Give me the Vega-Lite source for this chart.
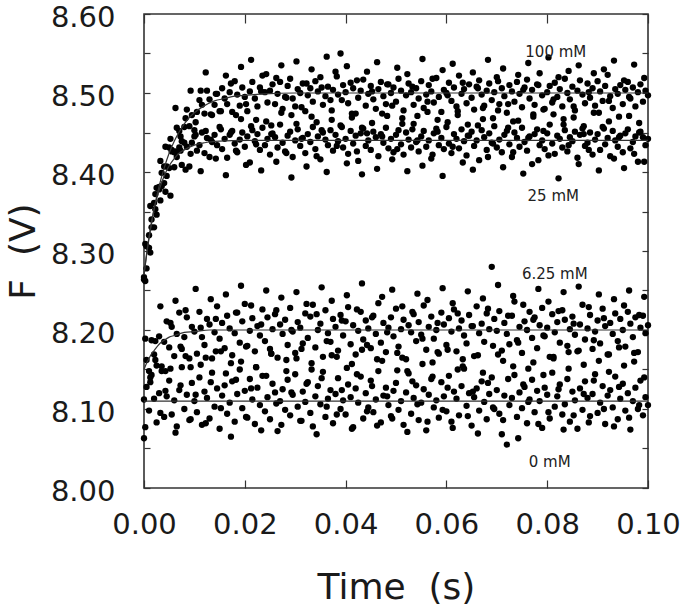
{
"$schema":"https://vega.github.io/schema/vega-lite/v6.json",
"width":504,"height":474,
"autosize":{"type":"none"},
"padding":{"left":144,"top":14,"right":37,"bottom":122},
"config":{"view":{"stroke":"#333333","strokeWidth":1.6},"font":"DejaVu Sans"},
"datasets":{
"pts":[
{"t":0,"F":8.267},{"t":0.0005,"F":8.278},{"t":0.001,"F":8.320},{"t":0.0015,"F":8.330},{"t":0.002,"F":8.330},{"t":0.0025,"F":8.380},{"t":0.003,"F":8.381},{"t":0.0035,"F":8.382},{"t":0.004,"F":8.407},{"t":0.0045,"F":8.395},
{"t":0.005,"F":8.431},{"t":0.0055,"F":8.426},{"t":0.006,"F":8.425},{"t":0.0065,"F":8.456},{"t":0.007,"F":8.452},{"t":0.0075,"F":8.439},{"t":0.008,"F":8.457},{"t":0.0085,"F":8.479},{"t":0.009,"F":8.458},{"t":0.0095,"F":8.472},
{"t":0.01,"F":8.453},{"t":0.0105,"F":8.476},{"t":0.011,"F":8.491},{"t":0.0115,"F":8.485},{"t":0.012,"F":8.474},{"t":0.0125,"F":8.503},{"t":0.013,"F":8.492},{"t":0.0135,"F":8.472},{"t":0.014,"F":8.485},{"t":0.0145,"F":8.499},
{"t":0.015,"F":8.477},{"t":0.0155,"F":8.506},{"t":0.016,"F":8.493},{"t":0.0165,"F":8.486},{"t":0.017,"F":8.501},{"t":0.0175,"F":8.476},{"t":0.018,"F":8.515},{"t":0.0185,"F":8.498},{"t":0.019,"F":8.484},{"t":0.0195,"F":8.507},
{"t":0.02,"F":8.495},{"t":0.0205,"F":8.477},{"t":0.021,"F":8.502},{"t":0.0215,"F":8.514},{"t":0.022,"F":8.493},{"t":0.0225,"F":8.483},{"t":0.023,"F":8.507},{"t":0.0235,"F":8.522},{"t":0.024,"F":8.501},{"t":0.0245,"F":8.488},
{"t":0.025,"F":8.503},{"t":0.0255,"F":8.511},{"t":0.026,"F":8.486},{"t":0.0265,"F":8.499},{"t":0.027,"F":8.514},{"t":0.0275,"F":8.480},{"t":0.028,"F":8.495},{"t":0.0285,"F":8.509},{"t":0.029,"F":8.518},{"t":0.0295,"F":8.493},
{"t":0.03,"F":8.483},{"t":0.0305,"F":8.505},{"t":0.031,"F":8.500},{"t":0.0315,"F":8.512},{"t":0.032,"F":8.477},{"t":0.0325,"F":8.497},{"t":0.033,"F":8.506},{"t":0.0335,"F":8.489},{"t":0.034,"F":8.515},{"t":0.0345,"F":8.502},
{"t":0.035,"F":8.520},{"t":0.0355,"F":8.485},{"t":0.036,"F":8.496},{"t":0.0365,"F":8.508},{"t":0.037,"F":8.491},{"t":0.0375,"F":8.504},{"t":0.038,"F":8.527},{"t":0.0385,"F":8.498},{"t":0.039,"F":8.550},{"t":0.0395,"F":8.510},
{"t":0.04,"F":8.501},{"t":0.0405,"F":8.487},{"t":0.041,"F":8.513},{"t":0.0415,"F":8.506},{"t":0.042,"F":8.474},{"t":0.0425,"F":8.494},{"t":0.043,"F":8.503},{"t":0.0435,"F":8.517},{"t":0.044,"F":8.484},{"t":0.0445,"F":8.499},
{"t":0.045,"F":8.509},{"t":0.0455,"F":8.492},{"t":0.046,"F":8.480},{"t":0.0465,"F":8.505},{"t":0.047,"F":8.514},{"t":0.0475,"F":8.496},{"t":0.048,"F":8.486},{"t":0.0485,"F":8.511},{"t":0.049,"F":8.500},{"t":0.0495,"F":8.507},
{"t":0.05,"F":8.489},{"t":0.0505,"F":8.518},{"t":0.051,"F":8.503},{"t":0.0515,"F":8.478},{"t":0.052,"F":8.497},{"t":0.0525,"F":8.512},{"t":0.053,"F":8.501},{"t":0.0535,"F":8.485},{"t":0.054,"F":8.506},{"t":0.0545,"F":8.493},
{"t":0.055,"F":8.515},{"t":0.0555,"F":8.481},{"t":0.056,"F":8.498},{"t":0.0565,"F":8.510},{"t":0.057,"F":8.502},{"t":0.0575,"F":8.488},{"t":0.058,"F":8.519},{"t":0.0585,"F":8.495},{"t":0.059,"F":8.476},{"t":0.0595,"F":8.504},
{"t":0.06,"F":8.500},{"t":0.0605,"F":8.513},{"t":0.061,"F":8.490},{"t":0.0615,"F":8.507},{"t":0.062,"F":8.483},{"t":0.0625,"F":8.522},{"t":0.063,"F":8.499},{"t":0.0635,"F":8.505},{"t":0.064,"F":8.487},{"t":0.0645,"F":8.511},
{"t":0.065,"F":8.494},{"t":0.0655,"F":8.479},{"t":0.066,"F":8.508},{"t":0.0665,"F":8.516},{"t":0.067,"F":8.498},{"t":0.0675,"F":8.484},{"t":0.068,"F":8.503},{"t":0.0685,"F":8.512},{"t":0.069,"F":8.491},{"t":0.0695,"F":8.501},
{"t":0.07,"F":8.520},{"t":0.0705,"F":8.486},{"t":0.071,"F":8.506},{"t":0.0715,"F":8.496},{"t":0.072,"F":8.475},{"t":0.0725,"F":8.510},{"t":0.073,"F":8.502},{"t":0.0735,"F":8.489},{"t":0.074,"F":8.514},{"t":0.0745,"F":8.499},
{"t":0.075,"F":8.482},{"t":0.0755,"F":8.507},{"t":0.076,"F":8.517},{"t":0.0765,"F":8.493},{"t":0.077,"F":8.504},{"t":0.0775,"F":8.485},{"t":0.078,"F":8.511},{"t":0.0785,"F":8.525},{"t":0.079,"F":8.497},{"t":0.0795,"F":8.480},
{"t":0.08,"F":8.501},{"t":0.0805,"F":8.509},{"t":0.081,"F":8.488},{"t":0.0815,"F":8.513},{"t":0.082,"F":8.495},{"t":0.0825,"F":8.505},{"t":0.083,"F":8.483},{"t":0.0835,"F":8.518},{"t":0.084,"F":8.500},{"t":0.0845,"F":8.492},
{"t":0.085,"F":8.508},{"t":0.0855,"F":8.478},{"t":0.086,"F":8.503},{"t":0.0865,"F":8.516},{"t":0.087,"F":8.498},{"t":0.0875,"F":8.487},{"t":0.088,"F":8.512},{"t":0.0885,"F":8.494},{"t":0.089,"F":8.506},{"t":0.0895,"F":8.484},
{"t":0.09,"F":8.515},{"t":0.0905,"F":8.502},{"t":0.091,"F":8.490},{"t":0.0915,"F":8.509},{"t":0.092,"F":8.523},{"t":0.0925,"F":8.496},{"t":0.093,"F":8.481},{"t":0.0935,"F":8.505},{"t":0.094,"F":8.499},{"t":0.0945,"F":8.510},
{"t":0.095,"F":8.486},{"t":0.0955,"F":8.504},{"t":0.096,"F":8.514},{"t":0.0965,"F":8.493},{"t":0.097,"F":8.507},{"t":0.0975,"F":8.483},{"t":0.098,"F":8.501},{"t":0.0985,"F":8.511},{"t":0.099,"F":8.489},{"t":0.0995,"F":8.503},{"t":0.1,"F":8.497},

{"t":0.00025,"F":8.262},{"t":0.00125,"F":8.357},{"t":0.00225,"F":8.353},{"t":0.00325,"F":8.414},{"t":0.00425,"F":8.375},{"t":0.00525,"F":8.442},{"t":0.00625,"F":8.481},{"t":0.00725,"F":8.427},{"t":0.00825,"F":8.468},{"t":0.00925,"F":8.503},
{"t":0.01025,"F":8.447},{"t":0.01125,"F":8.503},{"t":0.01225,"F":8.526},{"t":0.01325,"F":8.473},{"t":0.01425,"F":8.499},{"t":0.01525,"F":8.454},{"t":0.01625,"F":8.522},{"t":0.01725,"F":8.512},{"t":0.01825,"F":8.472},{"t":0.01925,"F":8.533},
{"t":0.02025,"F":8.486},{"t":0.02125,"F":8.542},{"t":0.02225,"F":8.466},{"t":0.02325,"F":8.502},{"t":0.02425,"F":8.524},{"t":0.02525,"F":8.459},{"t":0.02625,"F":8.519},{"t":0.02725,"F":8.535},{"t":0.02825,"F":8.494},{"t":0.02925,"F":8.472},
{"t":0.03025,"F":8.540},{"t":0.03125,"F":8.482},{"t":0.03225,"F":8.512},{"t":0.03325,"F":8.530},{"t":0.03425,"F":8.463},{"t":0.03525,"F":8.507},{"t":0.03625,"F":8.546},{"t":0.03725,"F":8.478},{"t":0.03825,"F":8.521},{"t":0.03925,"F":8.491},
{"t":0.04025,"F":8.534},{"t":0.04125,"F":8.469},{"t":0.04225,"F":8.516},{"t":0.04325,"F":8.456},{"t":0.04425,"F":8.527},{"t":0.04525,"F":8.502},{"t":0.04625,"F":8.539},{"t":0.04725,"F":8.474},{"t":0.04825,"F":8.511},{"t":0.04925,"F":8.484},
{"t":0.05025,"F":8.532},{"t":0.05125,"F":8.461},{"t":0.05225,"F":8.524},{"t":0.05325,"F":8.508},{"t":0.05425,"F":8.471},{"t":0.05525,"F":8.543},{"t":0.05625,"F":8.489},{"t":0.05725,"F":8.518},{"t":0.05825,"F":8.466},{"t":0.05925,"F":8.529},
{"t":0.06025,"F":8.497},{"t":0.06125,"F":8.537},{"t":0.06225,"F":8.477},{"t":0.06325,"F":8.513},{"t":0.06425,"F":8.460},{"t":0.06525,"F":8.526},{"t":0.06625,"F":8.506},{"t":0.06725,"F":8.481},{"t":0.06825,"F":8.542},{"t":0.06925,"F":8.468},
{"t":0.07025,"F":8.515},{"t":0.07125,"F":8.531},{"t":0.07225,"F":8.486},{"t":0.07325,"F":8.464},{"t":0.07425,"F":8.523},{"t":0.07525,"F":8.504},{"t":0.07625,"F":8.538},{"t":0.07725,"F":8.473},{"t":0.07825,"F":8.510},{"t":0.07925,"F":8.479},
{"t":0.08025,"F":8.545},{"t":0.08125,"F":8.492},{"t":0.08225,"F":8.520},{"t":0.08325,"F":8.467},{"t":0.08425,"F":8.528},{"t":0.08525,"F":8.483},{"t":0.08625,"F":8.535},{"t":0.08725,"F":8.458},{"t":0.08825,"F":8.501},{"t":0.08925,"F":8.525},
{"t":0.09025,"F":8.475},{"t":0.09125,"F":8.530},{"t":0.09225,"F":8.490},{"t":0.09325,"F":8.541},{"t":0.09425,"F":8.470},{"t":0.09525,"F":8.516},{"t":0.09625,"F":8.495},{"t":0.09725,"F":8.536},{"t":0.09825,"F":8.462},{"t":0.09925,"F":8.519},

{"t":0,"F":8.264},{"t":0.0005,"F":8.306},{"t":0.001,"F":8.304},{"t":0.0015,"F":8.340},{"t":0.002,"F":8.361},{"t":0.0025,"F":8.346},{"t":0.003,"F":8.378},{"t":0.0035,"F":8.399},{"t":0.004,"F":8.386},{"t":0.0045,"F":8.407},
{"t":0.005,"F":8.405},{"t":0.0055,"F":8.428},{"t":0.006,"F":8.406},{"t":0.0065,"F":8.419},{"t":0.007,"F":8.431},{"t":0.0075,"F":8.409},{"t":0.008,"F":8.437},{"t":0.0085,"F":8.432},{"t":0.009,"F":8.407},{"t":0.0095,"F":8.437},
{"t":0.01,"F":8.445},{"t":0.0105,"F":8.427},{"t":0.011,"F":8.434},{"t":0.0115,"F":8.450},{"t":0.012,"F":8.424},{"t":0.0125,"F":8.443},{"t":0.013,"F":8.419},{"t":0.0135,"F":8.438},{"t":0.014,"F":8.447},{"t":0.0145,"F":8.434},
{"t":0.015,"F":8.457},{"t":0.0155,"F":8.429},{"t":0.016,"F":8.442},{"t":0.0165,"F":8.418},{"t":0.017,"F":8.447},{"t":0.0175,"F":8.452},{"t":0.018,"F":8.436},{"t":0.0185,"F":8.425},{"t":0.019,"F":8.441},{"t":0.0195,"F":8.450},
{"t":0.02,"F":8.432},{"t":0.0205,"F":8.445},{"t":0.021,"F":8.412},{"t":0.0215,"F":8.453},{"t":0.022,"F":8.439},{"t":0.0225,"F":8.448},{"t":0.023,"F":8.428},{"t":0.0235,"F":8.456},{"t":0.024,"F":8.434},{"t":0.0245,"F":8.442},
{"t":0.025,"F":8.422},{"t":0.0255,"F":8.449},{"t":0.026,"F":8.444},{"t":0.0265,"F":8.431},{"t":0.027,"F":8.460},{"t":0.0275,"F":8.437},{"t":0.028,"F":8.426},{"t":0.0285,"F":8.446},{"t":0.029,"F":8.451},{"t":0.0295,"F":8.419},
{"t":0.03,"F":8.440},{"t":0.0305,"F":8.454},{"t":0.031,"F":8.433},{"t":0.0315,"F":8.443},{"t":0.032,"F":8.424},{"t":0.0325,"F":8.448},{"t":0.033,"F":8.438},{"t":0.0335,"F":8.457},{"t":0.034,"F":8.429},{"t":0.0345,"F":8.445},
{"t":0.035,"F":8.416},{"t":0.0355,"F":8.450},{"t":0.036,"F":8.441},{"t":0.0365,"F":8.434},{"t":0.037,"F":8.453},{"t":0.0375,"F":8.427},{"t":0.038,"F":8.447},{"t":0.0385,"F":8.439},{"t":0.039,"F":8.459},{"t":0.0395,"F":8.431},
{"t":0.04,"F":8.442},{"t":0.0405,"F":8.423},{"t":0.041,"F":8.452},{"t":0.0415,"F":8.436},{"t":0.042,"F":8.446},{"t":0.0425,"F":8.414},{"t":0.043,"F":8.449},{"t":0.0435,"F":8.455},{"t":0.044,"F":8.433},{"t":0.0445,"F":8.440},
{"t":0.045,"F":8.428},{"t":0.0455,"F":8.451},{"t":0.046,"F":8.444},{"t":0.0465,"F":8.420},{"t":0.047,"F":8.448},{"t":0.0475,"F":8.437},{"t":0.048,"F":8.456},{"t":0.0485,"F":8.430},{"t":0.049,"F":8.442},{"t":0.0495,"F":8.425},
{"t":0.05,"F":8.447},{"t":0.0505,"F":8.453},{"t":0.051,"F":8.435},{"t":0.0515,"F":8.422},{"t":0.052,"F":8.450},{"t":0.0525,"F":8.441},{"t":0.053,"F":8.431},{"t":0.0535,"F":8.461},{"t":0.054,"F":8.438},{"t":0.0545,"F":8.426},
{"t":0.055,"F":8.445},{"t":0.0555,"F":8.452},{"t":0.056,"F":8.432},{"t":0.0565,"F":8.440},{"t":0.057,"F":8.417},{"t":0.0575,"F":8.449},{"t":0.058,"F":8.455},{"t":0.0585,"F":8.434},{"t":0.059,"F":8.443},{"t":0.0595,"F":8.429},
{"t":0.06,"F":8.457},{"t":0.0605,"F":8.436},{"t":0.061,"F":8.424},{"t":0.0615,"F":8.448},{"t":0.062,"F":8.442},{"t":0.0625,"F":8.430},{"t":0.063,"F":8.454},{"t":0.0635,"F":8.439},{"t":0.064,"F":8.421},{"t":0.0645,"F":8.446},
{"t":0.065,"F":8.451},{"t":0.0655,"F":8.433},{"t":0.066,"F":8.440},{"t":0.0665,"F":8.415},{"t":0.067,"F":8.453},{"t":0.0675,"F":8.444},{"t":0.068,"F":8.428},{"t":0.0685,"F":8.449},{"t":0.069,"F":8.437},{"t":0.0695,"F":8.458},
{"t":0.07,"F":8.431},{"t":0.0705,"F":8.441},{"t":0.071,"F":8.425},{"t":0.0715,"F":8.447},{"t":0.072,"F":8.452},{"t":0.0725,"F":8.435},{"t":0.073,"F":8.419},{"t":0.0735,"F":8.450},{"t":0.074,"F":8.443},{"t":0.0745,"F":8.432},
{"t":0.075,"F":8.456},{"t":0.0755,"F":8.438},{"t":0.076,"F":8.427},{"t":0.0765,"F":8.445},{"t":0.077,"F":8.410},{"t":0.0775,"F":8.448},{"t":0.078,"F":8.454},{"t":0.0785,"F":8.434},{"t":0.079,"F":8.440},{"t":0.0795,"F":8.429},
{"t":0.08,"F":8.449},{"t":0.0805,"F":8.460},{"t":0.081,"F":8.436},{"t":0.0815,"F":8.423},{"t":0.082,"F":8.446},{"t":0.0825,"F":8.442},{"t":0.083,"F":8.431},{"t":0.0835,"F":8.453},{"t":0.084,"F":8.426},{"t":0.0845,"F":8.444},
{"t":0.085,"F":8.439},{"t":0.0855,"F":8.451},{"t":0.086,"F":8.418},{"t":0.0865,"F":8.447},{"t":0.087,"F":8.455},{"t":0.0875,"F":8.433},{"t":0.088,"F":8.437},{"t":0.0885,"F":8.450},{"t":0.089,"F":8.422},{"t":0.0895,"F":8.441},
{"t":0.09,"F":8.448},{"t":0.0905,"F":8.428},{"t":0.091,"F":8.457},{"t":0.0915,"F":8.435},{"t":0.092,"F":8.443},{"t":0.0925,"F":8.420},{"t":0.093,"F":8.452},{"t":0.0935,"F":8.440},{"t":0.094,"F":8.432},{"t":0.0945,"F":8.446},
{"t":0.095,"F":8.425},{"t":0.0955,"F":8.449},{"t":0.096,"F":8.454},{"t":0.0965,"F":8.430},{"t":0.097,"F":8.438},{"t":0.0975,"F":8.445},{"t":0.098,"F":8.413},{"t":0.0985,"F":8.451},{"t":0.099,"F":8.444},{"t":0.0995,"F":8.434},{"t":0.1,"F":8.442},

{"t":0.00025,"F":8.309},{"t":0.00125,"F":8.298},{"t":0.00225,"F":8.372},{"t":0.00325,"F":8.364},{"t":0.00425,"F":8.432},{"t":0.00525,"F":8.370},{"t":0.00625,"F":8.426},{"t":0.00725,"F":8.445},{"t":0.00825,"F":8.403},{"t":0.00925,"F":8.423},
{"t":0.01025,"F":8.463},{"t":0.01125,"F":8.401},{"t":0.01225,"F":8.452},{"t":0.01325,"F":8.441},{"t":0.01425,"F":8.417},{"t":0.01525,"F":8.477},{"t":0.01625,"F":8.396},{"t":0.01725,"F":8.450},{"t":0.01825,"F":8.427},{"t":0.01925,"F":8.467},
{"t":0.02025,"F":8.409},{"t":0.02125,"F":8.458},{"t":0.02225,"F":8.435},{"t":0.02325,"F":8.402},{"t":0.02425,"F":8.464},{"t":0.02525,"F":8.448},{"t":0.02625,"F":8.413},{"t":0.02725,"F":8.475},{"t":0.02825,"F":8.424},{"t":0.02925,"F":8.393},
{"t":0.03025,"F":8.461},{"t":0.03125,"F":8.442},{"t":0.03225,"F":8.407},{"t":0.03325,"F":8.470},{"t":0.03425,"F":8.420},{"t":0.03525,"F":8.453},{"t":0.03625,"F":8.400},{"t":0.03725,"F":8.466},{"t":0.03825,"F":8.433},{"t":0.03925,"F":8.457},
{"t":0.04025,"F":8.411},{"t":0.04125,"F":8.474},{"t":0.04225,"F":8.426},{"t":0.04325,"F":8.397},{"t":0.04425,"F":8.449},{"t":0.04525,"F":8.462},{"t":0.04625,"F":8.404},{"t":0.04725,"F":8.445},{"t":0.04825,"F":8.471},{"t":0.04925,"F":8.416},
{"t":0.05025,"F":8.429},{"t":0.05125,"F":8.468},{"t":0.05225,"F":8.401},{"t":0.05325,"F":8.454},{"t":0.05425,"F":8.440},{"t":0.05525,"F":8.408},{"t":0.05625,"F":8.476},{"t":0.05725,"F":8.422},{"t":0.05825,"F":8.451},{"t":0.05925,"F":8.395},
{"t":0.06025,"F":8.463},{"t":0.06125,"F":8.432},{"t":0.06225,"F":8.472},{"t":0.06325,"F":8.412},{"t":0.06425,"F":8.446},{"t":0.06525,"F":8.403},{"t":0.06625,"F":8.459},{"t":0.06725,"F":8.467},{"t":0.06825,"F":8.419},{"t":0.06925,"F":8.436},
{"t":0.07025,"F":8.478},{"t":0.07125,"F":8.406},{"t":0.07225,"F":8.456},{"t":0.07325,"F":8.425},{"t":0.07425,"F":8.465},{"t":0.07525,"F":8.398},{"t":0.07625,"F":8.443},{"t":0.07725,"F":8.470},{"t":0.07825,"F":8.415},{"t":0.07925,"F":8.452},
{"t":0.08025,"F":8.421},{"t":0.08125,"F":8.473},{"t":0.08225,"F":8.392},{"t":0.08325,"F":8.460},{"t":0.08425,"F":8.434},{"t":0.08525,"F":8.469},{"t":0.08625,"F":8.410},{"t":0.08725,"F":8.448},{"t":0.08825,"F":8.428},{"t":0.08925,"F":8.475},
{"t":0.09025,"F":8.402},{"t":0.09125,"F":8.455},{"t":0.09225,"F":8.464},{"t":0.09325,"F":8.417},{"t":0.09425,"F":8.444},{"t":0.09525,"F":8.405},{"t":0.09625,"F":8.471},{"t":0.09725,"F":8.423},{"t":0.09825,"F":8.450},{"t":0.09925,"F":8.413},

{"t":0,"F":8.112},{"t":0.0005,"F":8.162},{"t":0.001,"F":8.148},{"t":0.0015,"F":8.187},{"t":0.002,"F":8.169},{"t":0.0025,"F":8.155},{"t":0.003,"F":8.192},{"t":0.0035,"F":8.154},{"t":0.004,"F":8.185},{"t":0.0045,"F":8.211},
{"t":0.005,"F":8.178},{"t":0.0055,"F":8.204},{"t":0.006,"F":8.167},{"t":0.0065,"F":8.195},{"t":0.007,"F":8.222},{"t":0.0075,"F":8.176},{"t":0.008,"F":8.191},{"t":0.0085,"F":8.216},{"t":0.009,"F":8.164},{"t":0.0095,"F":8.204},
{"t":0.01,"F":8.198},{"t":0.0105,"F":8.170},{"t":0.011,"F":8.223},{"t":0.0115,"F":8.191},{"t":0.012,"F":8.181},{"t":0.0125,"F":8.214},{"t":0.013,"F":8.207},{"t":0.0135,"F":8.164},{"t":0.014,"F":8.197},{"t":0.0145,"F":8.230},
{"t":0.015,"F":8.189},{"t":0.0155,"F":8.209},{"t":0.016,"F":8.177},{"t":0.0165,"F":8.218},{"t":0.017,"F":8.202},{"t":0.0175,"F":8.168},{"t":0.018,"F":8.196},{"t":0.0185,"F":8.222},{"t":0.019,"F":8.184},{"t":0.0195,"F":8.211},
{"t":0.02,"F":8.233},{"t":0.0205,"F":8.180},{"t":0.021,"F":8.199},{"t":0.0215,"F":8.215},{"t":0.022,"F":8.173},{"t":0.0225,"F":8.205},{"t":0.023,"F":8.193},{"t":0.0235,"F":8.226},{"t":0.024,"F":8.186},{"t":0.0245,"F":8.216},
{"t":0.025,"F":8.176},{"t":0.0255,"F":8.201},{"t":0.026,"F":8.220},{"t":0.0265,"F":8.165},{"t":0.027,"F":8.207},{"t":0.0275,"F":8.195},{"t":0.028,"F":8.213},{"t":0.0285,"F":8.181},{"t":0.029,"F":8.228},{"t":0.0295,"F":8.198},
{"t":0.03,"F":8.171},{"t":0.0305,"F":8.210},{"t":0.031,"F":8.203},{"t":0.0315,"F":8.183},{"t":0.032,"F":8.221},{"t":0.0325,"F":8.190},{"t":0.033,"F":8.217},{"t":0.0335,"F":8.232},{"t":0.034,"F":8.178},{"t":0.0345,"F":8.200},
{"t":0.035,"F":8.208},{"t":0.0355,"F":8.166},{"t":0.036,"F":8.225},{"t":0.0365,"F":8.196},{"t":0.037,"F":8.185},{"t":0.0375,"F":8.214},{"t":0.038,"F":8.204},{"t":0.0385,"F":8.174},{"t":0.039,"F":8.219},{"t":0.0395,"F":8.193},
{"t":0.04,"F":8.211},{"t":0.0405,"F":8.229},{"t":0.041,"F":8.182},{"t":0.0415,"F":8.206},{"t":0.042,"F":8.169},{"t":0.0425,"F":8.199},{"t":0.043,"F":8.223},{"t":0.0435,"F":8.188},{"t":0.044,"F":8.212},{"t":0.0445,"F":8.202},
{"t":0.045,"F":8.177},{"t":0.0455,"F":8.218},{"t":0.046,"F":8.195},{"t":0.0465,"F":8.234},{"t":0.047,"F":8.184},{"t":0.0475,"F":8.209},{"t":0.048,"F":8.172},{"t":0.0485,"F":8.203},{"t":0.049,"F":8.216},{"t":0.0495,"F":8.192},
{"t":0.05,"F":8.227},{"t":0.0505,"F":8.179},{"t":0.051,"F":8.201},{"t":0.0515,"F":8.213},{"t":0.052,"F":8.163},{"t":0.0525,"F":8.206},{"t":0.053,"F":8.197},{"t":0.0535,"F":8.220},{"t":0.054,"F":8.186},{"t":0.0545,"F":8.210},
{"t":0.055,"F":8.194},{"t":0.0555,"F":8.231},{"t":0.056,"F":8.175},{"t":0.0565,"F":8.204},{"t":0.057,"F":8.217},{"t":0.0575,"F":8.189},{"t":0.058,"F":8.200},{"t":0.0585,"F":8.170},{"t":0.059,"F":8.222},{"t":0.0595,"F":8.207},
{"t":0.06,"F":8.181},{"t":0.0605,"F":8.215},{"t":0.061,"F":8.198},{"t":0.0615,"F":8.226},{"t":0.062,"F":8.173},{"t":0.0625,"F":8.202},{"t":0.063,"F":8.212},{"t":0.0635,"F":8.193},{"t":0.064,"F":8.183},{"t":0.0645,"F":8.219},
{"t":0.065,"F":8.205},{"t":0.0655,"F":8.167},{"t":0.066,"F":8.230},{"t":0.0665,"F":8.196},{"t":0.067,"F":8.208},{"t":0.0675,"F":8.185},{"t":0.068,"F":8.221},{"t":0.0685,"F":8.201},{"t":0.069,"F":8.280},{"t":0.0695,"F":8.214},
{"t":0.07,"F":8.199},{"t":0.0705,"F":8.224},{"t":0.071,"F":8.174},{"t":0.0715,"F":8.209},{"t":0.072,"F":8.195},{"t":0.0725,"F":8.182},{"t":0.073,"F":8.218},{"t":0.0735,"F":8.236},{"t":0.074,"F":8.187},{"t":0.0745,"F":8.204},
{"t":0.075,"F":8.171},{"t":0.0755,"F":8.211},{"t":0.076,"F":8.200},{"t":0.0765,"F":8.223},{"t":0.077,"F":8.190},{"t":0.0775,"F":8.216},{"t":0.078,"F":8.177},{"t":0.0785,"F":8.206},{"t":0.079,"F":8.228},{"t":0.0795,"F":8.192},
{"t":0.08,"F":8.203},{"t":0.0805,"F":8.166},{"t":0.081,"F":8.220},{"t":0.0815,"F":8.197},{"t":0.082,"F":8.210},{"t":0.0825,"F":8.184},{"t":0.083,"F":8.225},{"t":0.0835,"F":8.213},{"t":0.084,"F":8.180},{"t":0.0845,"F":8.201},
{"t":0.085,"F":8.217},{"t":0.0855,"F":8.194},{"t":0.086,"F":8.173},{"t":0.0865,"F":8.207},{"t":0.087,"F":8.232},{"t":0.0875,"F":8.188},{"t":0.088,"F":8.202},{"t":0.0885,"F":8.219},{"t":0.089,"F":8.176},{"t":0.0895,"F":8.198},
{"t":0.09,"F":8.212},{"t":0.0905,"F":8.183},{"t":0.091,"F":8.227},{"t":0.0915,"F":8.205},{"t":0.092,"F":8.169},{"t":0.0925,"F":8.209},{"t":0.093,"F":8.195},{"t":0.0935,"F":8.221},{"t":0.094,"F":8.186},{"t":0.0945,"F":8.214},
{"t":0.095,"F":8.200},{"t":0.0955,"F":8.179},{"t":0.096,"F":8.223},{"t":0.0965,"F":8.208},{"t":0.097,"F":8.191},{"t":0.0975,"F":8.216},{"t":0.098,"F":8.172},{"t":0.0985,"F":8.203},{"t":0.099,"F":8.218},{"t":0.0995,"F":8.196},{"t":0.1,"F":8.206},

{"t":0.00025,"F":8.189},{"t":0.00125,"F":8.134},{"t":0.00225,"F":8.186},{"t":0.00325,"F":8.230},{"t":0.00425,"F":8.148},{"t":0.00525,"F":8.209},{"t":0.00625,"F":8.237},{"t":0.00725,"F":8.179},{"t":0.00825,"F":8.225},{"t":0.00925,"F":8.153},
{"t":0.01025,"F":8.252},{"t":0.01125,"F":8.203},{"t":0.01225,"F":8.165},{"t":0.01325,"F":8.239},{"t":0.01425,"F":8.214},{"t":0.01525,"F":8.173},{"t":0.01625,"F":8.245},{"t":0.01725,"F":8.158},{"t":0.01825,"F":8.222},{"t":0.01925,"F":8.256},
{"t":0.02025,"F":8.179},{"t":0.02125,"F":8.231},{"t":0.02225,"F":8.153},{"t":0.02325,"F":8.207},{"t":0.02425,"F":8.250},{"t":0.02525,"F":8.170},{"t":0.02625,"F":8.225},{"t":0.02725,"F":8.241},{"t":0.02825,"F":8.162},{"t":0.02925,"F":8.200},
{"t":0.03025,"F":8.248},{"t":0.03125,"F":8.176},{"t":0.03225,"F":8.233},{"t":0.03325,"F":8.150},{"t":0.03425,"F":8.220},{"t":0.03525,"F":8.254},{"t":0.03625,"F":8.186},{"t":0.03725,"F":8.237},{"t":0.03825,"F":8.166},{"t":0.03925,"F":8.212},
{"t":0.04025,"F":8.244},{"t":0.04125,"F":8.157},{"t":0.04225,"F":8.226},{"t":0.04325,"F":8.259},{"t":0.04425,"F":8.181},{"t":0.04525,"F":8.216},{"t":0.04625,"F":8.163},{"t":0.04725,"F":8.242},{"t":0.04825,"F":8.197},{"t":0.04925,"F":8.251},
{"t":0.05025,"F":8.171},{"t":0.05125,"F":8.230},{"t":0.05225,"F":8.148},{"t":0.05325,"F":8.223},{"t":0.05425,"F":8.246},{"t":0.05525,"F":8.189},{"t":0.05625,"F":8.238},{"t":0.05725,"F":8.159},{"t":0.05825,"F":8.209},{"t":0.05925,"F":8.253},
{"t":0.06025,"F":8.175},{"t":0.06125,"F":8.234},{"t":0.06225,"F":8.221},{"t":0.06325,"F":8.154},{"t":0.06425,"F":8.249},{"t":0.06525,"F":8.205},{"t":0.06625,"F":8.168},{"t":0.06725,"F":8.240},{"t":0.06825,"F":8.227},{"t":0.06925,"F":8.180},
{"t":0.07025,"F":8.257},{"t":0.07125,"F":8.161},{"t":0.07225,"F":8.218},{"t":0.07325,"F":8.243},{"t":0.07425,"F":8.184},{"t":0.07525,"F":8.232},{"t":0.07625,"F":8.151},{"t":0.07725,"F":8.213},{"t":0.07825,"F":8.252},{"t":0.07925,"F":8.193},
{"t":0.08025,"F":8.236},{"t":0.08125,"F":8.164},{"t":0.08225,"F":8.224},{"t":0.08325,"F":8.248},{"t":0.08425,"F":8.172},{"t":0.08525,"F":8.208},{"t":0.08625,"F":8.255},{"t":0.08725,"F":8.156},{"t":0.08825,"F":8.229},{"t":0.08925,"F":8.187},
{"t":0.09025,"F":8.245},{"t":0.09125,"F":8.215},{"t":0.09225,"F":8.169},{"t":0.09325,"F":8.239},{"t":0.09425,"F":8.178},{"t":0.09525,"F":8.231},{"t":0.09625,"F":8.250},{"t":0.09725,"F":8.160},{"t":0.09825,"F":8.219},{"t":0.09925,"F":8.242},

{"t":0,"F":8.063},{"t":0.0005,"F":8.128},{"t":0.001,"F":8.098},{"t":0.0015,"F":8.143},{"t":0.002,"F":8.113},{"t":0.0025,"F":8.083},{"t":0.003,"F":8.120},{"t":0.0035,"F":8.148},{"t":0.004,"F":8.090},{"t":0.0045,"F":8.116},
{"t":0.005,"F":8.136},{"t":0.0055,"F":8.093},{"t":0.006,"F":8.111},{"t":0.0065,"F":8.078},{"t":0.007,"F":8.124},{"t":0.0075,"F":8.153},{"t":0.008,"F":8.100},{"t":0.0085,"F":8.118},{"t":0.009,"F":8.086},{"t":0.0095,"F":8.133},
{"t":0.01,"F":8.110},{"t":0.0105,"F":8.096},{"t":0.011,"F":8.140},{"t":0.0115,"F":8.080},{"t":0.012,"F":8.122},{"t":0.0125,"F":8.114},{"t":0.013,"F":8.088},{"t":0.0135,"F":8.146},{"t":0.014,"F":8.103},{"t":0.0145,"F":8.126},
{"t":0.015,"F":8.075},{"t":0.0155,"F":8.117},{"t":0.016,"F":8.130},{"t":0.0165,"F":8.094},{"t":0.017,"F":8.108},{"t":0.0175,"F":8.135},{"t":0.018,"F":8.084},{"t":0.0185,"F":8.119},{"t":0.019,"F":8.150},{"t":0.0195,"F":8.101},
{"t":0.02,"F":8.123},{"t":0.0205,"F":8.089},{"t":0.021,"F":8.138},{"t":0.0215,"F":8.112},{"t":0.022,"F":8.081},{"t":0.0225,"F":8.127},{"t":0.023,"F":8.105},{"t":0.0235,"F":8.142},{"t":0.024,"F":8.097},{"t":0.0245,"F":8.115},
{"t":0.025,"F":8.087},{"t":0.0255,"F":8.132},{"t":0.026,"F":8.121},{"t":0.0265,"F":8.072},{"t":0.027,"F":8.110},{"t":0.0275,"F":8.125},{"t":0.028,"F":8.099},{"t":0.0285,"F":8.137},{"t":0.029,"F":8.092},{"t":0.0295,"F":8.118},
{"t":0.03,"F":8.144},{"t":0.0305,"F":8.103},{"t":0.031,"F":8.085},{"t":0.0315,"F":8.122},{"t":0.032,"F":8.109},{"t":0.0325,"F":8.134},{"t":0.033,"F":8.095},{"t":0.0335,"F":8.078},{"t":0.034,"F":8.116},{"t":0.0345,"F":8.129},
{"t":0.035,"F":8.106},{"t":0.0355,"F":8.147},{"t":0.036,"F":8.090},{"t":0.0365,"F":8.113},{"t":0.037,"F":8.124},{"t":0.0375,"F":8.082},{"t":0.038,"F":8.119},{"t":0.0385,"F":8.139},{"t":0.039,"F":8.100},{"t":0.0395,"F":8.111},
{"t":0.04,"F":8.093},{"t":0.0405,"F":8.131},{"t":0.041,"F":8.115},{"t":0.0415,"F":8.077},{"t":0.042,"F":8.126},{"t":0.0425,"F":8.108},{"t":0.043,"F":8.141},{"t":0.0435,"F":8.088},{"t":0.044,"F":8.120},{"t":0.0445,"F":8.102},
{"t":0.045,"F":8.136},{"t":0.0455,"F":8.096},{"t":0.046,"F":8.112},{"t":0.0465,"F":8.148},{"t":0.047,"F":8.083},{"t":0.0475,"F":8.117},{"t":0.048,"F":8.127},{"t":0.0485,"F":8.105},{"t":0.049,"F":8.091},{"t":0.0495,"F":8.123},
{"t":0.05,"F":8.133},{"t":0.0505,"F":8.099},{"t":0.051,"F":8.110},{"t":0.0515,"F":8.080},{"t":0.052,"F":8.121},{"t":0.0525,"F":8.145},{"t":0.053,"F":8.094},{"t":0.0535,"F":8.114},{"t":0.054,"F":8.130},{"t":0.0545,"F":8.086},
{"t":0.055,"F":8.108},{"t":0.0555,"F":8.125},{"t":0.056,"F":8.073},{"t":0.0565,"F":8.118},{"t":0.057,"F":8.138},{"t":0.0575,"F":8.102},{"t":0.058,"F":8.111},{"t":0.0585,"F":8.089},{"t":0.059,"F":8.134},{"t":0.0595,"F":8.116},
{"t":0.06,"F":8.097},{"t":0.0605,"F":8.142},{"t":0.061,"F":8.084},{"t":0.0615,"F":8.122},{"t":0.062,"F":8.113},{"t":0.0625,"F":8.092},{"t":0.063,"F":8.129},{"t":0.0635,"F":8.151},{"t":0.064,"F":8.104},{"t":0.0645,"F":8.120},
{"t":0.065,"F":8.079},{"t":0.0655,"F":8.115},{"t":0.066,"F":8.126},{"t":0.0665,"F":8.098},{"t":0.067,"F":8.135},{"t":0.0675,"F":8.109},{"t":0.068,"F":8.087},{"t":0.0685,"F":8.119},{"t":0.069,"F":8.140},{"t":0.0695,"F":8.100},
{"t":0.07,"F":8.124},{"t":0.0705,"F":8.094},{"t":0.071,"F":8.068},{"t":0.0715,"F":8.117},{"t":0.072,"F":8.055},{"t":0.0725,"F":8.105},{"t":0.073,"F":8.114},{"t":0.0735,"F":8.143},{"t":0.074,"F":8.090},{"t":0.0745,"F":8.121},
{"t":0.075,"F":8.101},{"t":0.0755,"F":8.128},{"t":0.076,"F":8.082},{"t":0.0765,"F":8.112},{"t":0.077,"F":8.137},{"t":0.0775,"F":8.096},{"t":0.078,"F":8.123},{"t":0.0785,"F":8.110},{"t":0.079,"F":8.076},{"t":0.0795,"F":8.127},
{"t":0.08,"F":8.118},{"t":0.0805,"F":8.088},{"t":0.081,"F":8.146},{"t":0.0815,"F":8.103},{"t":0.082,"F":8.116},{"t":0.0825,"F":8.131},{"t":0.083,"F":8.093},{"t":0.0835,"F":8.106},{"t":0.084,"F":8.138},{"t":0.0845,"F":8.084},
{"t":0.085,"F":8.122},{"t":0.0855,"F":8.111},{"t":0.086,"F":8.075},{"t":0.0865,"F":8.126},{"t":0.087,"F":8.099},{"t":0.0875,"F":8.135},{"t":0.088,"F":8.114},{"t":0.0885,"F":8.091},{"t":0.089,"F":8.119},{"t":0.0895,"F":8.144},
{"t":0.09,"F":8.095},{"t":0.0905,"F":8.108},{"t":0.091,"F":8.129},{"t":0.0915,"F":8.081},{"t":0.092,"F":8.117},{"t":0.0925,"F":8.124},{"t":0.093,"F":8.102},{"t":0.0935,"F":8.141},{"t":0.094,"F":8.087},{"t":0.0945,"F":8.113},
{"t":0.095,"F":8.132},{"t":0.0955,"F":8.098},{"t":0.096,"F":8.120},{"t":0.0965,"F":8.074},{"t":0.097,"F":8.110},{"t":0.0975,"F":8.127},{"t":0.098,"F":8.100},{"t":0.0985,"F":8.136},{"t":0.099,"F":8.092},{"t":0.0995,"F":8.115},{"t":0.1,"F":8.105},

{"t":0.00025,"F":8.077},{"t":0.00125,"F":8.140},{"t":0.00225,"F":8.162},{"t":0.00325,"F":8.095},{"t":0.00425,"F":8.123},{"t":0.00525,"F":8.151},{"t":0.00625,"F":8.070},{"t":0.00725,"F":8.130},{"t":0.00825,"F":8.167},{"t":0.00925,"F":8.087},
{"t":0.01025,"F":8.118},{"t":0.01125,"F":8.156},{"t":0.01225,"F":8.082},{"t":0.01325,"F":8.134},{"t":0.01425,"F":8.173},{"t":0.01525,"F":8.101},{"t":0.01625,"F":8.145},{"t":0.01725,"F":8.065},{"t":0.01825,"F":8.137},{"t":0.01925,"F":8.160},
{"t":0.02025,"F":8.090},{"t":0.02125,"F":8.126},{"t":0.02225,"F":8.153},{"t":0.02325,"F":8.073},{"t":0.02425,"F":8.142},{"t":0.02525,"F":8.170},{"t":0.02625,"F":8.107},{"t":0.02725,"F":8.080},{"t":0.02825,"F":8.148},{"t":0.02925,"F":8.121},
{"t":0.03025,"F":8.164},{"t":0.03125,"F":8.085},{"t":0.03225,"F":8.132},{"t":0.03325,"F":8.158},{"t":0.03425,"F":8.068},{"t":0.03525,"F":8.139},{"t":0.03625,"F":8.103},{"t":0.03725,"F":8.168},{"t":0.03825,"F":8.093},{"t":0.03925,"F":8.124},
{"t":0.04025,"F":8.152},{"t":0.04125,"F":8.075},{"t":0.04225,"F":8.144},{"t":0.04325,"F":8.175},{"t":0.04425,"F":8.097},{"t":0.04525,"F":8.129},{"t":0.04625,"F":8.079},{"t":0.04725,"F":8.161},{"t":0.04825,"F":8.116},{"t":0.04925,"F":8.088},
{"t":0.05025,"F":8.149},{"t":0.05125,"F":8.165},{"t":0.05225,"F":8.071},{"t":0.05325,"F":8.135},{"t":0.05425,"F":8.106},{"t":0.05525,"F":8.157},{"t":0.05625,"F":8.084},{"t":0.05725,"F":8.141},{"t":0.05825,"F":8.172},{"t":0.05925,"F":8.099},
{"t":0.06025,"F":8.127},{"t":0.06125,"F":8.076},{"t":0.06225,"F":8.150},{"t":0.06325,"F":8.163},{"t":0.06425,"F":8.091},{"t":0.06525,"F":8.122},{"t":0.06625,"F":8.069},{"t":0.06725,"F":8.146},{"t":0.06825,"F":8.133},{"t":0.06925,"F":8.102},
{"t":0.07025,"F":8.169},{"t":0.07125,"F":8.086},{"t":0.07225,"F":8.138},{"t":0.07325,"F":8.154},{"t":0.07425,"F":8.063},{"t":0.07525,"F":8.131},{"t":0.07625,"F":8.109},{"t":0.07725,"F":8.159},{"t":0.07825,"F":8.081},{"t":0.07925,"F":8.143},
{"t":0.08025,"F":8.096},{"t":0.08125,"F":8.166},{"t":0.08225,"F":8.125},{"t":0.08325,"F":8.074},{"t":0.08425,"F":8.151},{"t":0.08525,"F":8.092},{"t":0.08625,"F":8.174},{"t":0.08725,"F":8.119},{"t":0.08825,"F":8.083},{"t":0.08925,"F":8.136},
{"t":0.09025,"F":8.161},{"t":0.09125,"F":8.100},{"t":0.09225,"F":8.147},{"t":0.09325,"F":8.078},{"t":0.09425,"F":8.128},{"t":0.09525,"F":8.155},{"t":0.09625,"F":8.089},{"t":0.09725,"F":8.171},{"t":0.09825,"F":8.105},{"t":0.09925,"F":8.140}
],
"fit":[
{"s":"100 mM","t":0,"F":8.270},{"s":"100 mM","t":0.0005,"F":8.294},{"s":"100 mM","t":0.001,"F":8.316},{"s":"100 mM","t":0.0015,"F":8.335},{"s":"100 mM","t":0.002,"F":8.353},{"s":"100 mM","t":0.003,"F":8.382},{"s":"100 mM","t":0.004,"F":8.405},{"s":"100 mM","t":0.005,"F":8.424},{"s":"100 mM","t":0.006,"F":8.439},{"s":"100 mM","t":0.007,"F":8.451},{"s":"100 mM","t":0.008,"F":8.461},{"s":"100 mM","t":0.009,"F":8.469},{"s":"100 mM","t":0.01,"F":8.475},{"s":"100 mM","t":0.012,"F":8.484},{"s":"100 mM","t":0.014,"F":8.490},{"s":"100 mM","t":0.016,"F":8.493},{"s":"100 mM","t":0.018,"F":8.496},{"s":"100 mM","t":0.02,"F":8.497},{"s":"100 mM","t":0.024,"F":8.499},{"s":"100 mM","t":0.03,"F":8.500},{"s":"100 mM","t":0.1,"F":8.500},
{"s":"25 mM","t":0,"F":8.270},{"s":"25 mM","t":0.0005,"F":8.296},{"s":"25 mM","t":0.001,"F":8.318},{"s":"25 mM","t":0.0015,"F":8.337},{"s":"25 mM","t":0.002,"F":8.353},{"s":"25 mM","t":0.003,"F":8.377},{"s":"25 mM","t":0.004,"F":8.395},{"s":"25 mM","t":0.005,"F":8.408},{"s":"25 mM","t":0.006,"F":8.417},{"s":"25 mM","t":0.007,"F":8.424},{"s":"25 mM","t":0.008,"F":8.428},{"s":"25 mM","t":0.01,"F":8.434},{"s":"25 mM","t":0.012,"F":8.437},{"s":"25 mM","t":0.015,"F":8.439},{"s":"25 mM","t":0.02,"F":8.440},{"s":"25 mM","t":0.1,"F":8.440},
{"s":"6.25 mM","t":0,"F":8.150},{"s":"6.25 mM","t":0.0005,"F":8.158},{"s":"6.25 mM","t":0.001,"F":8.164},{"s":"6.25 mM","t":0.0015,"F":8.170},{"s":"6.25 mM","t":0.002,"F":8.174},{"s":"6.25 mM","t":0.003,"F":8.182},{"s":"6.25 mM","t":0.004,"F":8.187},{"s":"6.25 mM","t":0.005,"F":8.191},{"s":"6.25 mM","t":0.006,"F":8.193},{"s":"6.25 mM","t":0.008,"F":8.197},{"s":"6.25 mM","t":0.01,"F":8.198},{"s":"6.25 mM","t":0.013,"F":8.200},{"s":"6.25 mM","t":0.02,"F":8.200},{"s":"6.25 mM","t":0.1,"F":8.200},
{"s":"0 mM","t":0,"F":8.110},{"s":"0 mM","t":0.1,"F":8.110}
],
"lab":[
{"label":"100 mM","t":0.0817,"F":8.5525},
{"label":"25 mM","t":0.0812,"F":8.3696},
{"label":"6.25 mM","t":0.0815,"F":8.271},
{"label":"0 mM","t":0.0805,"F":8.033}
]
},
"layer":[
{"data":{"name":"pts"},
 "mark":{"type":"circle","size":40,"color":"#000000","opacity":1},
 "encoding":{
  "x":{"field":"t","type":"quantitative","scale":{"domain":[0,0.1],"nice":false,"zero":false},
   "axis":{"orient":"bottom","values":[0,0.02,0.04,0.06,0.08,0.1],"format":".2f","domain":false,"grid":false,"tickSize":-8,"tickColor":"#333333","tickWidth":1.2,"labelFont":"DejaVu Sans","labelFontSize":29,"labelColor":"#1a1a1a","labelPadding":30,"labelFlush":false,"labelOverlap":false,"labelBound":false,"title":"Time\u00a0\u00a0(s)","titleFont":"DejaVu Sans","titleFontSize":36,"titleFontWeight":"normal","titleColor":"#1a1a1a","titlePadding":31}},
  "y":{"field":"F","type":"quantitative","scale":{"domain":[8,8.6],"nice":false,"zero":false},
   "axis":{"orient":"left","values":[8,8.05,8.1,8.15,8.2,8.25,8.3,8.35,8.4,8.45,8.5,8.55,8.6],"labelExpr":"abs(datum.value*10-round(datum.value*10))<0.01 ? format(datum.value,'.2f') : ''","domain":false,"grid":false,"tickSize":-6,"tickColor":"#333333","tickWidth":1.2,"labelFont":"DejaVu Sans","labelFontSize":29,"labelColor":"#1a1a1a","labelPadding":35,"labelOffset":3,"labelOverlap":false,"labelBound":false,"title":"F\u00a0\u00a0(V)","titleFont":"DejaVu Sans","titleFontSize":36,"titleFontWeight":"normal","titleColor":"#1a1a1a","titlePadding":8}}
 }},
{"data":{"name":"fit"},
 "mark":{"type":"line","color":"#333333","strokeWidth":1.2,"interpolate":"monotone"},
 "encoding":{
  "x":{"field":"t","type":"quantitative","axis":{"orient":"top","values":[0,0.02,0.04,0.06,0.08,0.1],"labels":false,"domain":false,"grid":false,"tickSize":-9,"tickColor":"#333333","tickWidth":1.2,"title":null}},
  "y":{"field":"F","type":"quantitative","axis":{"orient":"right","values":[8,8.05,8.1,8.15,8.2,8.25,8.3,8.35,8.4,8.45,8.5,8.55,8.6],"labels":false,"domain":false,"grid":false,"tickSize":-6,"tickColor":"#333333","tickWidth":1.2,"title":null}},
  "detail":{"field":"s"}
 }},
{"data":{"name":"lab"},
 "mark":{"type":"text","fontSize":15,"color":"#222222","font":"DejaVu Sans","align":"center","baseline":"middle"},
 "encoding":{
  "x":{"field":"t","type":"quantitative","axis":null},
  "y":{"field":"F","type":"quantitative","axis":null},
  "text":{"field":"label"}
 }}
],
"resolve":{"axis":{"x":"independent","y":"independent"}}
}
